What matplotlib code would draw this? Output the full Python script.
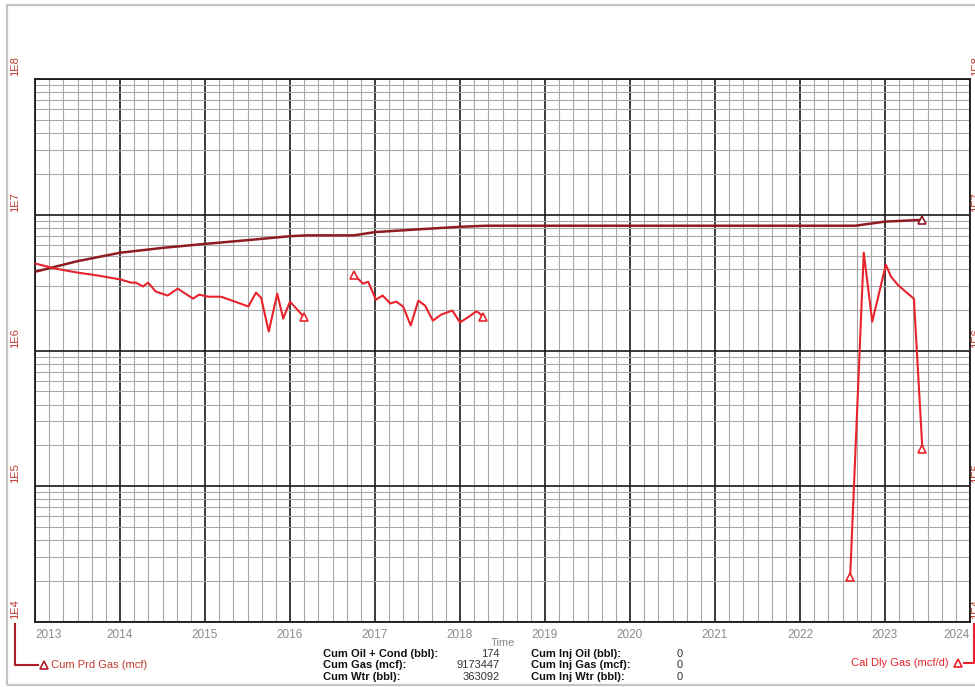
import matplotlib
matplotlib.use('Agg')
import matplotlib.pyplot as plt
from matplotlib.ticker import MultipleLocator, LogLocator, NullFormatter
from matplotlib.lines import Line2D
from matplotlib.patches import Rectangle

plt.rcParams['font.family'] = ['Liberation Sans', 'DejaVu Sans']

# cumulative produced gas (mcf), decimal years
cum_dates = [2013.0, 2013.5, 2014.0, 2014.5, 2015.0, 2015.5, 2016.0, 2016.2,
             2016.75, 2017.0, 2017.5, 2018.0, 2018.3, 2022.65, 2023.0, 2023.44]
cum_gas = [3.8e6, 4.55e6, 5.25e6, 5.7e6, 6.1e6, 6.5e6, 6.95e6, 7.05e6,
           7.05e6, 7.45e6, 7.8e6, 8.15e6, 8.3e6, 8.3e6, 8.9e6, 9.17e6]

# calendar daily gas (mcf/d), three producing periods
rate1_dates = [2013.01, 2013.25, 2013.5, 2013.75, 2014.01, 2014.13, 2014.19, 2014.27,
               2014.33, 2014.42, 2014.56, 2014.68, 2014.75, 2014.86, 2014.93, 2015.04,
               2015.19, 2015.51, 2015.60, 2015.66, 2015.75, 2015.85, 2015.92, 2016.0, 2016.16]
rate1 = [4.36e6, 4.0e6, 3.75e6, 3.56e6, 3.33e6, 3.16e6, 3.16e6, 2.96e6,
         3.16e6, 2.72e6, 2.54e6, 2.86e6, 2.67e6, 2.41e6, 2.58e6, 2.49e6,
         2.49e6, 2.11e6, 2.67e6, 2.45e6, 1.38e6, 2.62e6, 1.72e6, 2.29e6, 1.78e6]

rate2_dates = [2016.75, 2016.86, 2016.92, 2017.01, 2017.09, 2017.18, 2017.25, 2017.33,
               2017.42, 2017.51, 2017.59, 2017.68, 2017.78, 2017.91, 2018.0, 2018.09,
               2018.19, 2018.22, 2018.27]
rate2 = [3.62e6, 3.11e6, 3.21e6, 2.37e6, 2.54e6, 2.22e6, 2.29e6, 2.11e6,
         1.53e6, 2.33e6, 2.14e6, 1.66e6, 1.84e6, 1.97e6, 1.61e6, 1.75e6,
         1.94e6, 1.90e6, 1.78e6]

rate3_dates = [2022.59, 2022.75, 2022.85, 2023.01, 2023.07, 2023.15, 2023.24, 2023.34, 2023.44]
rate3 = [2.14e4, 5.26e6, 1.63e6, 4.29e6, 3.5e6, 3.05e6, 2.72e6, 2.41e6, 1.87e5]

years = list(range(2013, 2025))
decade_labels = ['1E4', '1E5', '1E6', '1E7', '1E8']
decade_values = [1e4, 1e5, 1e6, 1e7, 1e8]

stat_names_1 = ['Cum Oil + Cond (bbl):', 'Cum Gas (mcf):', 'Cum Wtr (bbl):']
stat_vals_1 = ['174', '9173447', '363092']
stat_names_2 = ['Cum Inj Oil (bbl):', 'Cum Inj Gas (mcf):', 'Cum Inj Wtr (bbl):']
stat_vals_2 = ['0', '0', '0']

W, H = 975, 687
CUM_COL = '#8e1c22'
RATE_COL = '#e8232b'
LABEL_RED = '#c0392b'


def fx(x):
    return x / W


def fy(y):
    return 1 - y / H


fig = plt.figure(figsize=(W / 100, H / 100), dpi=100)
ax = fig.add_axes([fx(35), fy(622), (970 - 35) / W, (622 - 79) / H])

ax.set_yscale('log')
ax.set_xlim(2013.0, 2024.0)
ax.set_ylim(1e4, 1e8)

ax.xaxis.set_major_locator(MultipleLocator(1))
ax.xaxis.set_minor_locator(MultipleLocator(1 / 6))
ax.yaxis.set_major_locator(LogLocator(base=10))
ax.yaxis.set_minor_locator(LogLocator(base=10, subs=range(2, 10)))
ax.yaxis.set_major_formatter(NullFormatter())
ax.yaxis.set_minor_formatter(NullFormatter())

ax.grid(which='major', color='#1a1a1a', lw=1.2)
ax.grid(which='minor', color='#a8a8a8', lw=0.8)
ax.set_axisbelow(True)
for s in ax.spines.values():
    s.set_color('#1a1a1a')
    s.set_linewidth(1.3)

ax.tick_params(which='both', length=0)
ax.set_xticks(years)
ax.set_xticklabels([str(y) for y in years], fontsize=8.5, color='#8a8a8a')
ax.tick_params(axis='x', pad=5)
xl = ax.get_xticklabels()
xl[0].set_ha('left')
xl[-1].set_ha('right')

mk = dict(marker='^', markersize=6, markerfacecolor='white', markeredgewidth=1.2)

ax.plot(cum_dates, cum_gas, color=CUM_COL, lw=1.8, zorder=3)
ax.plot(cum_dates[-1:], cum_gas[-1:], ls='none', color=CUM_COL,
        markeredgecolor=CUM_COL, zorder=4, **mk)

for d, v, ends in [(rate1_dates, rate1, [-1]), (rate2_dates, rate2, [0, -1]),
                   (rate3_dates, rate3, [0, -1])]:
    ax.plot(d, v, color=RATE_COL, lw=1.5, zorder=3)
    ax.plot([d[i] for i in ends], [v[i] for i in ends], ls='none', color=RATE_COL,
            markeredgecolor=RATE_COL, zorder=4, **mk)

# rotated decade labels on both sides
for lab, val in zip(decade_labels, decade_values):
    ypx = 622 - (decade_values.index(val)) * (543 / 4)
    fig.text(fx(15), fy(ypx - 3), lab, rotation=90, ha='center', va='bottom',
             fontsize=8, color=LABEL_RED)
    fig.text(fx(971), fy(ypx - 3), lab, rotation=90, ha='left', va='bottom',
             fontsize=8, color=LABEL_RED)

# "Time" axis title
fig.text(fx(503), fy(643), 'Time', ha='center', va='center', fontsize=8, color='#8a8a8a')

# bottom-left legend
fig.add_artist(Line2D([fx(15), fx(15), fx(38)], [fy(624), fy(665), fy(665)],
                      transform=fig.transFigure, color='#b01c28', lw=1.5))
fig.add_artist(Line2D([fx(44)], [fy(665)], transform=fig.transFigure, ls='none',
                      marker='^', markersize=6, markerfacecolor='none',
                      markeredgecolor='#b01c28', markeredgewidth=1.2))
fig.text(fx(51), fy(665), 'Cum Prd Gas (mcf)', ha='left', va='center',
         fontsize=8, color=LABEL_RED)

# bottom-right legend
fig.text(fx(949), fy(663), 'Cal Dly Gas (mcf/d)', ha='right', va='center',
         fontsize=8, color=RATE_COL)
fig.add_artist(Line2D([fx(958)], [fy(663)], transform=fig.transFigure, ls='none',
                      marker='^', markersize=6, markerfacecolor='none',
                      markeredgecolor=RATE_COL, markeredgewidth=1.2))
fig.add_artist(Line2D([fx(964), fx(974), fx(974)], [fy(663), fy(663), fy(624)],
                      transform=fig.transFigure, color=RATE_COL, lw=1.5))

# cumulative summary table
row_y = [654, 665, 677]
for i in range(3):
    fig.text(fx(323), fy(row_y[i]), stat_names_1[i], ha='left', va='center',
             fontsize=8, fontweight='bold', color='#111111')
    fig.text(fx(500), fy(row_y[i]), stat_vals_1[i], ha='right', va='center',
             fontsize=8, color='#333333')
    fig.text(fx(531), fy(row_y[i]), stat_names_2[i], ha='left', va='center',
             fontsize=8, fontweight='bold', color='#111111')
    fig.text(fx(683), fy(row_y[i]), stat_vals_2[i], ha='right', va='center',
             fontsize=8, color='#333333')

# light outer frame
fig.add_artist(Rectangle((fx(7), fy(685)), 1.5, (685 - 5) / H, transform=fig.transFigure,
                         fill=False, edgecolor='#c4c4c4', lw=1.6))

fig.savefig('out.png', dpi=100)
